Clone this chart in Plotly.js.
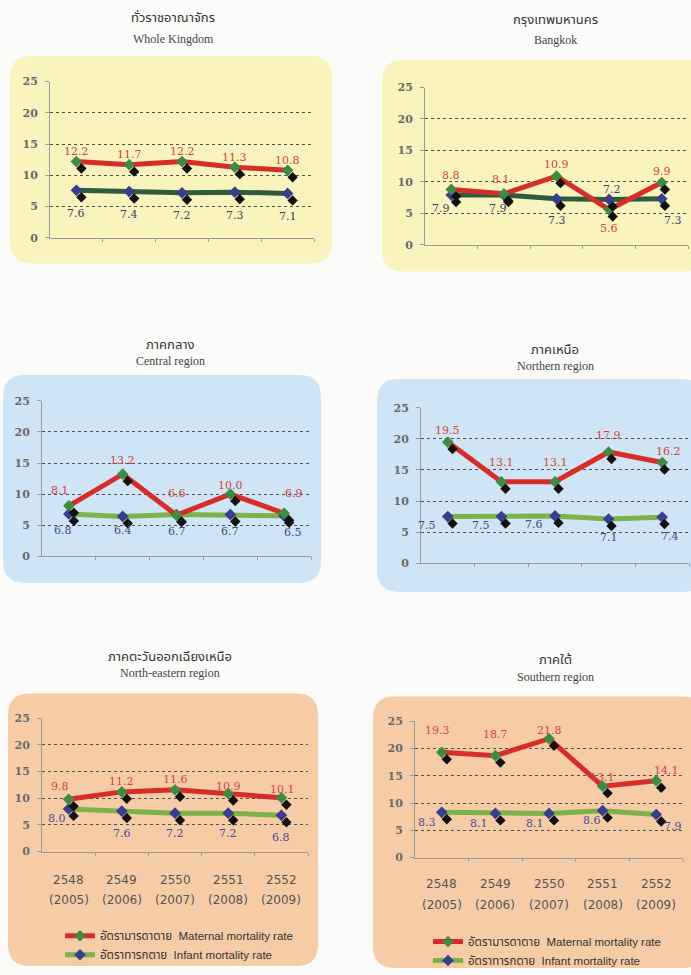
<!DOCTYPE html>
<html>
<head>
<meta charset="utf-8">
<script src="https://cdn.plot.ly/plotly-3.0.1.min.js"></script>
<style>html,body{margin:0;padding:0;background:#fbfbfa;}#chart{width:691px;height:975px;}</style>
</head>
<body>
<div id="chart"></div>
<script>
// ---------------- DATA ----------------
const yearsBE = ['2548', '2549', '2550', '2551', '2552'];
const yearsCE = ['(2005)', '(2006)', '(2007)', '(2008)', '(2009)'];
const regionThai = ['ทั่วราชอาณาจักร', 'กรุงเทพมหานคร', 'ภาคกลาง', 'ภาคเหนือ', 'ภาคตะวันออกเฉียงเหนือ', 'ภาคใต้'];
const regionEng = ['Whole Kingdom', 'Bangkok', 'Central region', 'Northern region', 'North-eastern region', 'Southern region'];
const maternalKingdom = [12.2, 11.7, 12.2, 11.3, 10.8];
const infantKingdom = [7.6, 7.4, 7.2, 7.3, 7.1];
const maternalBangkok = [8.8, 8.1, 10.9, 5.6, 9.9];
const infantBangkok = [7.9, 7.9, 7.3, 7.2, 7.3];
const maternalCentral = [8.1, 13.2, 6.6, 10.0, 6.9];
const infantCentral = [6.8, 6.4, 6.7, 6.7, 6.5];
const maternalNorth = [19.5, 13.1, 13.1, 17.9, 16.2];
const infantNorth = [7.5, 7.5, 7.6, 7.1, 7.4];
const maternalNorthEast = [9.8, 11.2, 11.6, 10.9, 10.1];
const infantNorthEast = [8.0, 7.6, 7.2, 7.2, 6.8];
const maternalSouth = [19.3, 18.7, 21.8, 13.1, 14.1];
const infantSouth = [8.3, 8.1, 8.1, 8.6, 7.9];
const yTicks = [0, 5, 10, 15, 20, 25];
const seriesNames = ['อัตรามารดาตาย  Maternal mortality rate', 'อัตราทารกตาย  Infant mortality rate'];

const maternalAll = [maternalKingdom, maternalBangkok, maternalCentral, maternalNorth, maternalNorthEast, maternalSouth];
const infantAll = [infantKingdom, infantBangkok, infantCentral, infantNorth, infantNorthEast, infantSouth];

// ---------------- LAYOUT GEOMETRY (pixels) ----------------
const W = 691, H = 975;
const px = x => x / W;
const py = y => 1 - y / H;

const geom = [
  {l: 50, r: 314, y0: 239, y25: 82, bg: [10, 56, 332, 265], bgc: '#f9f4bd', t: [173, 18, 39], infc: '#2f5c3c', labc: '#3e3e5e'},
  {l: 425, r: 688, y0: 246, y25: 88, bg: [382, 60, 705, 273], bgc: '#f9f4bd', t: [555, 20, 40], infc: '#2f5c3c', labc: '#3e3e6a'},
  {l: 42, r: 311, y0: 559, y25: 403, bg: [3, 377, 321, 586], bgc: '#cfe4f4', t: [170, 347, 363], infc: '#7cb24a', labc: '#3f4a8c'},
  {l: 421, r: 689, y0: 566, y25: 410, bg: [377, 381, 705, 595], bgc: '#cfe4f4', t: [555, 352, 368], infc: '#7cb24a', labc: '#3f4a8c'},
  {l: 42, r: 308, y0: 856, y25: 722, bg: [8, 697, 318, 971], bgc: '#f6cca6', t: [170, 660, 676], infc: '#7cb24a', labc: '#4a4aa0'},
  {l: 415, r: 683, y0: 862, y25: 725, bg: [373, 700, 705, 973], bgc: '#f6cca6', t: [555, 663, 680], infc: '#7cb24a', labc: '#4a4aa0'}
];
// label offsets [xshift, yshift] per point
const matOff = [
  [[0,10],[0,10],[0,10],[0,10],[0,10]],
  [[0,14],[-3,14],[0,12],[0,-19],[0,11]],
  [[-9,15],[0,14],[0,22],[0,9],[10,20]],
  [[0,12],[0,19],[0,19],[0,16],[6,11]],
  [[-9,13],[0,10],[0,10],[0,7],[1,8]],
  [[-4,22],[0,21],[0,8],[0,9],[10,10]]
];
const infOff = [
  [[0,-23],[0,-23],[0,-23],[0,-23],[0,-23]],
  [[-10,-13],[-6,-13],[0,-22],[3,10],[11,-22]],
  [[-6,-17],[0,-14],[0,-17],[0,-17],[9,-17]],
  [[-21,-9],[-20,-9],[-21,-9],[0,-18],[8,-19]],
  [[-12,-10],[0,-22],[0,-20],[0,-20],[0,-22]],
  [[-15,-10],[-16,-10],[-14,-10],[-11,-10],[17,-12]]
];

const RED = '#d72d28', MATMK = '#3f8a45', INFMK = '#3a3d8e';
const labelFont = 'DejaVu Serif, serif';
const legendFont = 'Liberation Sans, Arial, Noto Sans Thai, sans-serif';

const xIdx = yearsBE.map((_, i) => i);
const traces = [];
const layout = {
  width: W, height: H,
  margin: {l: 0, r: 0, t: 0, b: 0},
  paper_bgcolor: '#fbfbfa',
  plot_bgcolor: 'rgba(0,0,0,0)',
  showlegend: true,
  shapes: [], annotations: []
};

function roundRect(x0, y0, x1, y1, r) {
  const P = (x, y) => px(x) + ',' + py(y);
  return 'M' + P(x0 + r, y0) + ' L' + P(x1 - r, y0) + ' Q' + P(x1, y0) + ' ' + P(x1, y0 + r) +
    ' L' + P(x1, y1 - r) + ' Q' + P(x1, y1) + ' ' + P(x1 - r, y1) +
    ' L' + P(x0 + r, y1) + ' Q' + P(x0, y1) + ' ' + P(x0, y1 - r) +
    ' L' + P(x0, y0 + r) + ' Q' + P(x0, y0) + ' ' + P(x0 + r, y0) + ' Z';
}

geom.forEach((g, k) => {
  const n = k + 1, s = k + 7;
  const xa = 'x' + n, ya = 'y' + n;
  const xs = 'x' + s, ys = 'y' + s;
  const bottom = (k >= 4);
  layout.shapes.push({type: 'path', xref: 'paper', yref: 'paper', path: roundRect(g.bg[0], g.bg[1], g.bg[2], g.bg[3], 22),
    fillcolor: g.bgc, line: {width: 0}, layer: 'below'});
  layout['xaxis' + n] = {domain: [px(g.l), px(g.r)], anchor: ya, range: [-0.5, 4.5], fixedrange: true,
    showgrid: false, zeroline: false, showline: true, linecolor: '#9a9a9a', linewidth: 1,
    tickmode: 'array', tickvals: [0.5, 1.5, 2.5, 3.5, 4.5], ticks: 'outside', ticklen: 3, tickcolor: '#9a9a9a',
    showticklabels: false};
  layout['yaxis' + n] = {domain: [py(g.y0), py(g.y25)], anchor: xa, range: [0, 25], fixedrange: true,
    tickmode: 'array', tickvals: yTicks, ticks: 'outside', ticklen: 4, tickcolor: '#9a9a9a',
    showline: true, linecolor: '#9a9a9a', linewidth: 1, zeroline: false,
    showgrid: true, gridcolor: '#505050', griddash: 'dot', gridwidth: 1,
    tickfont: {family: 'DejaVu Serif, serif', size: 11, color: '#6a6a6a', weight: 'bold'}, ticklabelstandoff: 5};
  layout['xaxis' + s] = {domain: [px(g.l + 5), px(g.r + 5)], anchor: ys, range: [-0.5, 4.5], visible: false, fixedrange: true};
  layout['yaxis' + s] = {domain: [py(g.y0 + 7), py(g.y25 + 7)], anchor: xs, range: [0, 25], visible: false, fixedrange: true};

  const mat = maternalAll[k], inf = infantAll[k];
  traces.push({type: 'scatter', mode: 'lines+markers', x: xIdx, y: inf, xaxis: xa, yaxis: ya,
    name: seriesNames[1], legend: k === 5 ? 'legend2' : 'legend', legendrank: 2,
    showlegend: bottom, line: {color: g.infc, width: 5}, marker: {symbol: 'diamond', size: 9, color: INFMK},
    hoverinfo: 'skip'});
  traces.push({type: 'scatter', mode: 'lines+markers', x: xIdx, y: mat, xaxis: xa, yaxis: ya,
    name: seriesNames[0], legend: k === 5 ? 'legend2' : 'legend', legendrank: 1,
    showlegend: bottom, line: {color: RED, width: 5}, marker: {symbol: 'diamond', size: 9, color: MATMK},
    hoverinfo: 'skip'});
  [mat, inf].forEach(arr => traces.push({type: 'scatter', mode: 'markers', x: xIdx, y: arr, xaxis: xs, yaxis: ys,
    showlegend: false, marker: {symbol: 'diamond', size: 8, color: '#111'}, hoverinfo: 'skip'}));

  mat.forEach((v, i) => layout.annotations.push({xref: xa, yref: ya, x: i, y: v, text: v.toFixed(1), showarrow: false,
    xshift: matOff[k][i][0], yshift: matOff[k][i][1], font: {family: labelFont, size: 11, color: '#d2453a'}}));
  inf.forEach((v, i) => layout.annotations.push({xref: xa, yref: ya, x: i, y: v, text: v.toFixed(1), showarrow: false,
    xshift: infOff[k][i][0], yshift: infOff[k][i][1], font: {family: labelFont, size: 11, color: g.labc}}));

  layout.annotations.push({xref: 'paper', yref: 'paper', x: px(g.t[0]), y: py(g.t[1]), text: regionThai[k],
    showarrow: false, xanchor: 'center', yanchor: 'middle', font: {family: 'Noto Sans Thai, sans-serif', size: 13, color: '#333', weight: 'normal'}});
  layout.annotations.push({xref: 'paper', yref: 'paper', x: px(g.t[0]), y: py(g.t[2]), text: regionEng[k],
    showarrow: false, xanchor: 'center', yanchor: 'middle', font: {family: 'Liberation Serif, serif', size: 12, color: '#444'}});

  if (bottom) {
    const yb = k === 4 ? [885, 905] : [889, 910];
    yearsBE.forEach((t, i) => layout.annotations.push({xref: xa, yref: 'paper', x: i, y: py(yb[0]), text: t,
      showarrow: false, yanchor: 'middle', font: {family: 'DejaVu Sans, sans-serif', size: 12, color: '#555'}}));
    yearsCE.forEach((t, i) => layout.annotations.push({xref: xa, yref: 'paper', x: i, y: py(yb[1]), text: t,
      showarrow: false, yanchor: 'middle', font: {family: 'DejaVu Sans, sans-serif', size: 12, color: '#555'}}));
  }
});

const legendBase = {bgcolor: 'rgba(0,0,0,0)', borderwidth: 0, xanchor: 'left', yanchor: 'top',
  font: {family: legendFont, size: 11.5, color: '#333'}, tracegroupgap: 0, itemclick: false, itemdoubleclick: false,
  traceorder: 'normal', itemwidth: 30};
layout.legend = Object.assign({}, legendBase, {x: px(60), y: py(926)});
layout.legend2 = Object.assign({}, legendBase, {x: px(428), y: py(932)});

Plotly.newPlot('chart', traces, layout, {staticPlot: true, displayModeBar: false});
</script>
</body>
</html>
